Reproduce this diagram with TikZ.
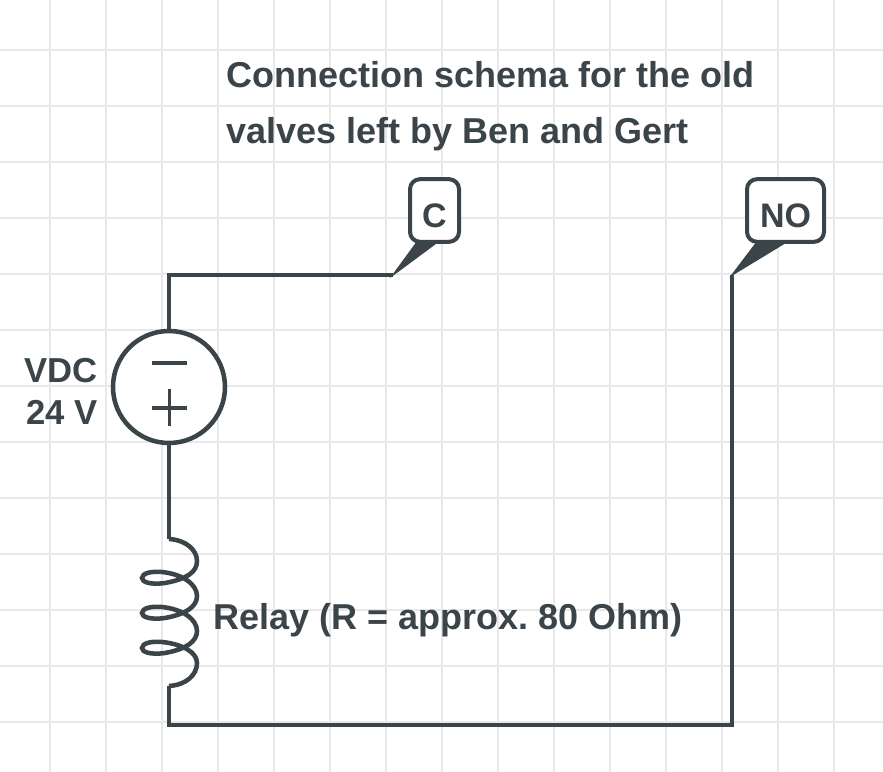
\documentclass[tikz,border=0pt]{standalone}
\usepackage{fontspec}
\setmainfont{Liberation Sans}
\frenchspacing
\definecolor{wirecol}{HTML}{3A4449}
\definecolor{gridcol}{HTML}{E8E8E8}
\tikzset{
  wire/.style={draw=wirecol,line width=3.4pt,line join=miter},
  thin wire/.style={draw=wirecol,line width=2.7pt},
  wedge/.style={draw=wirecol,fill=wirecol,line width=1pt},
  tag/.style={draw=wirecol,fill=white,line width=3pt,rounded corners=7.5pt,inner sep=0pt,
    minimum height=47pt,text height=25.8pt,text depth=0pt,text=wirecol,font=\fontsize{25.5}{30}\bfseries\selectfont},
  lbl/.style={text=wirecol,inner sep=0pt,font=\fontsize{27}{31.5}\bfseries\selectfont},
}
\begin{document}
\begin{tikzpicture}[x=0.75pt,y=-0.75pt]
\useasboundingbox (0,0) rectangle (883,772);
\fill[white] (0,0) rectangle (883,772);
% grid
\foreach \gx in {50,106,...,834}
  \draw[gridcol,line width=1.5pt] (\gx,0) -- (\gx,772);
\foreach \gy in {50,106,...,722}
  \draw[gridcol,line width=1.5pt] (0,\gy) -- (883,\gy);
% corners of the circuit
\coordinate (tipC) at (393,275);
\coordinate (tipNO) at (732,275);
\coordinate (topleft) at (169,275);
\coordinate (botleft) at (169,725);
\coordinate (botright) at (732,725);
\coordinate (coilA) at (169,539);
\coordinate (coilB) at (169,686);
% wedges, then tags over them
\draw[wedge] ([xshift=-13.6pt]434.5,243) -- ([xshift=1.2pt]434.5,243) -- (tipC) -- cycle;
\draw[wedge] ([xshift=-21.9pt]785.5,243) -- ([xshift=-0.6pt]785.5,243) -- (tipNO) -- cycle;
\node[tag,minimum width=36.75pt] (C) at (434.5,210.5) {C};
\node[tag,minimum width=57.75pt] (NO) at (785.5,210.5) {NO};
% source
\node[circle,draw=wirecol,fill=white,line width=3.4pt,minimum size=84pt,inner sep=0pt] (src) at (169,387) {};
\coordinate (mL) at (152,363);
\coordinate (mR) at (187,363);
\coordinate (pL) at (152,408);
\coordinate (pR) at (187,408);
\coordinate (pT) at (169.5,389);
\coordinate (pB) at (169.5,426);
\draw[thin wire] (mL) -- (mR);
\draw[thin wire] (pL) -- (pR);
\draw[thin wire] (pT) -- (pB);
% wires
\draw[wire] (tipC) -- (topleft) -- (src.north);
\draw[wire] (src.south) -- (coilA);
\draw[wire] (coilB) -- (botleft) -- (botright) -- (tipNO);
% coil
\draw[wire] (coilA) .. controls (186,540) and (197,550) .. (197,561)
  .. controls (197,572) and (187,579) .. (165,583)
  .. controls (150,585) and (142,582) .. (142,578)
  .. controls (142,573) and (152,571) .. (162,572)
  .. controls (182,574) and (197,584) .. (197,596)
  .. controls (197,606) and (187,614) .. (165,618)
  .. controls (150,620) and (142,617) .. (142,613)
  .. controls (142,608) and (152,606) .. (162,607)
  .. controls (182,609) and (197,619) .. (197,631)
  .. controls (197,641) and (187,649) .. (165,653)
  .. controls (150,655) and (142,652) .. (142,648)
  .. controls (142,643) and (152,641) .. (162,642)
  .. controls (182,644) and (197,652) .. (197,663)
  .. controls (197,675) and (186,685) .. (coilB);
% labels
\node[lbl,anchor=west,align=left,font=\fontsize{27}{42}\bfseries\selectfont] (title) at (226,106)
  {Connection schema for the old\\valves left by Ben and Gert};
\node[lbl,anchor=east,align=right,font=\fontsize{26}{31.5}\bfseries\selectfont] (vdc) at (98,391) {VDC\\24 V};
\node[lbl,anchor=west] (relay) at (213,620) {Relay (R = approx. 80 Ohm)};
\end{tikzpicture}
\end{document}
